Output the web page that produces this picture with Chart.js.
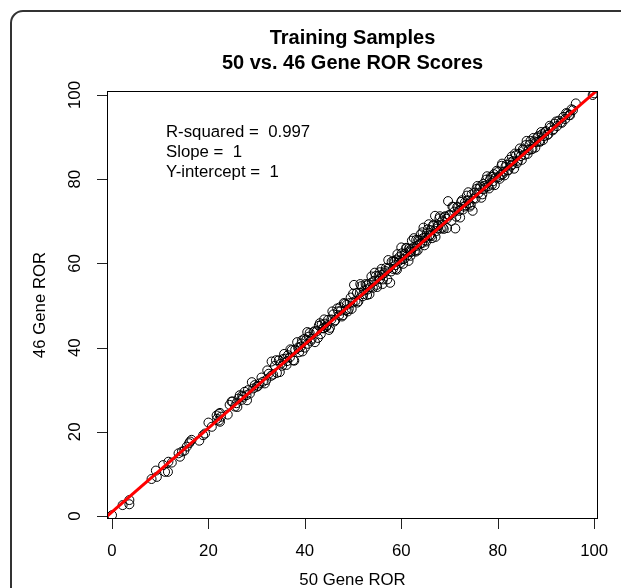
<!DOCTYPE html>
<html>
<head>
<meta charset="utf-8">
<script src="https://cdn.jsdelivr.net/npm/chart.js@4.4.1/dist/chart.umd.min.js"></script>
<style>
  html, body { margin: 0; padding: 0; background: #fff; }
  canvas { display: block; }
</style>
</head>
<body>
<canvas id="ror-chart" width="621" height="588"></canvas>
<script>
// 50 gene ROR score (x) vs 46 gene ROR score (y), one entry per training sample
const ror50 = [
  0.0, 2.2, 3.6, 3.6, 8.2, 9.1, 9.3, 10.6, 11.0, 11.6, 11.7, 12.4, 13.8, 14.1, 14.5, 15.0,
  15.5, 16.0, 16.5, 16.2, 18.1, 18.9, 19.3, 20.0, 20.7, 21.7, 21.8, 22.2, 22.2, 22.4, 22.6, 22.4,
  24.4, 24.8, 25.5, 25.8, 26.2, 26.5, 26.9, 27.2, 27.5, 27.9, 28.2, 28.6, 29.3, 29.6, 30.0, 30.6,
  31.3, 32.0,
  32.5, 33.1, 33.4, 33.8, 34.2, 34.6, 35.0, 35.3, 35.7, 36.2, 36.5, 36.9, 37.3, 37.6, 38.0, 38.4,
  38.8, 39.1, 39.5, 39.9, 40.3, 40.6, 41.0, 41.4, 41.8, 42.1, 42.5, 42.9, 43.3, 43.7, 44.0, 44.4,
  44.8, 45.2, 45.5, 45.9, 46.3, 46.7, 47.1, 47.5, 47.9, 48.3, 48.7, 49.1, 49.5, 49.9,
  36.0, 39.3, 40.8, 43.5, 44.6, 47.3, 48.9,
  50.2, 50.5, 50.8, 51.1, 51.4, 51.7, 52.0, 52.3, 52.6, 52.9, 53.2, 53.5, 53.8, 54.1, 54.4, 54.7,
  55.0, 55.3, 55.6, 55.9, 56.2, 56.5, 56.8, 57.1, 57.4, 57.7, 58.0, 58.3, 58.6, 58.9, 59.2, 59.5,
  59.8, 60.1, 60.4, 60.7, 61.0, 61.3, 61.6, 61.9, 62.2, 62.5, 62.8, 63.1, 63.4, 63.7, 64.0, 64.3,
  64.6, 64.9, 65.2, 65.5, 65.8, 66.1, 66.4, 66.7, 67.0, 67.3, 67.6, 67.9, 68.2, 68.5, 68.8, 69.1,
  69.4, 69.7,
  53.0, 56.0, 58.8, 60.2, 61.8, 63.3, 64.5, 66.0, 67.5, 62.0, 59.0, 65.0,
  70.0, 70.4, 70.8, 71.2, 71.6, 72.0, 72.4, 72.8, 73.2, 73.6, 74.0, 74.4, 74.8, 75.2, 75.6, 76.0,
  76.4, 76.8, 77.2, 77.6, 78.0, 78.4, 78.8, 79.2, 79.6, 80.0, 80.4, 80.8, 81.2, 81.6, 82.0, 82.4,
  82.8, 83.2, 83.6, 84.0, 84.4, 84.8, 85.2, 85.6, 86.0, 86.4, 86.8, 87.2, 87.6, 88.0, 88.4, 88.8,
  89.2, 89.6,
  71.0, 73.0, 75.0, 77.0, 79.0, 81.0, 83.0, 73.8, 76.2, 78.6, 80.6, 82.6,
  90.0, 90.5, 91.0, 91.4, 91.8, 92.3, 92.7, 93.1, 93.6, 94.0, 94.5, 95.0, 95.6, 96.2, 99.7, 100.0,
  24.0, 25.0, 26.0, 27.0, 28.0, 29.0, 30.3, 31.0, 31.7, 32.2, 33.0, 34.0, 34.8, 35.5, 36.3, 37.0,
  37.8, 38.6, 39.4, 40.0, 40.5, 41.2, 42.0, 42.7, 43.1, 43.9, 44.2, 45.0, 45.7, 46.1, 46.9, 47.7,
  48.1, 48.5, 49.3, 49.7, 50.0, 50.9, 51.5, 52.1, 52.8, 53.4, 53.9, 54.5, 54.9, 55.5, 56.1, 56.7,
  57.3, 57.9, 58.4, 59.1, 59.6, 60.0, 60.6, 61.1, 61.5, 62.1, 62.6, 63.0, 63.5, 63.9, 64.4, 64.8,
  65.3, 65.7, 66.2, 66.6, 67.1, 67.7, 68.0, 68.6, 69.0, 69.5, 69.9, 70.6, 71.4, 71.8, 72.2, 72.6,
  73.4, 73.9, 74.2, 74.6, 75.4, 75.8, 76.6, 77.0, 77.4, 77.8, 78.2, 78.9, 79.4, 79.8, 80.2, 80.9,
  81.4, 81.8, 82.2, 82.9, 83.4, 83.8, 84.2, 84.6, 85.0, 85.4, 85.8, 86.2, 86.6, 87.0, 87.4, 87.8,
  88.2, 88.6, 89.0, 89.4, 89.8, 90.3, 90.8, 91.6, 92.1, 93.3, 94.2, 94.8, 95.3
];
const ror46 = [
  0.2, 2.6, 3.8, 2.8, 8.8, 10.8, 9.3, 12.1, 10.5, 10.5, 12.9, 12.7, 14.9, 14.1, 15.3, 15.5,
  16.5, 17.3, 18.1, 17.7, 17.9, 19.2, 19.6, 22.2, 21.2, 23.9, 23.1, 24.3, 22.7, 22.4, 23.6, 24.5,
  26.4, 27.2, 26.0, 26.8, 27.9, 28.7, 27.6, 28.3, 29.5, 28.7, 29.9, 29.1, 30.3, 31.1, 30.7, 31.5,
  31.9, 32.3,
  33.8, 36.7, 33.6, 35.7, 34.0, 37.0, 36.2, 35.7, 38.5, 35.9, 38.2, 37.7, 39.4, 37.0, 39.5, 41.3,
  38.9, 40.2, 39.1, 42.1, 41.9, 40.9, 43.5, 42.1, 43.7, 41.3, 43.9, 45.2, 43.2, 44.6, 46.7, 44.9,
  46.6, 44.7, 46.7, 47.9, 46.5, 49.3, 47.7, 48.8, 47.7, 50.4, 50.2, 49.2, 51.9, 50.7,
  37.4, 41.0, 42.6, 45.5, 45.3, 49.6, 48.6,
  54.9, 51.1, 53.0, 51.0, 53.0, 54.6, 52.2, 53.6, 55.1, 52.5, 55.1, 54.3, 56.9, 54.2, 55.8, 57.0,
  54.4, 57.0, 56.3, 58.7, 56.2, 57.7, 58.9, 56.2, 58.9, 55.4, 60.4, 58.7, 60.4, 58.7, 62.2, 60.6,
  60.1, 62.4, 59.9, 62.3, 63.7, 61.9, 63.5, 61.8, 65.4, 63.8, 63.0, 65.6, 63.1, 65.4, 66.9, 64.8,
  68.5, 66.1, 65.2, 68.1, 66.6, 67.9, 66.0, 68.9, 71.3, 67.7, 69.0, 70.7, 68.3, 70.0, 68.2, 71.2,
  70.6, 74.8,
  53.8, 57.3, 59.6, 61.0, 62.9, 64.2, 66.0, 66.8, 68.3, 62.7, 60.9, 65.5,
  71.4, 70.1, 73.4, 68.3, 73.4, 72.5, 74.6, 72.8, 74.5, 76.1, 74.2, 73.9, 72.5, 76.8, 77.7, 76.7,
  78.3, 76.4, 78.4, 79.9, 78.3, 79.9, 78.7, 81.2, 80.4, 81.7, 80.1, 83.2, 81.8, 82.9, 82.1, 84.6,
  83.2, 84.3, 86.1, 83.8, 86.0, 85.5, 87.1, 85.8, 89.1, 86.9, 89.1, 87.2, 89.0, 88.8, 90.2, 88.9,
  90.7, 90.2,
  72.3, 73.5, 75.4, 77.6, 79.5, 81.2, 83.5, 75.0, 77.8, 80.6, 81.0, 84.0,
  91.4, 90.7, 92.3, 91.6, 93.2, 92.6, 93.9, 93.5, 94.8, 94.3, 95.6, 95.2, 96.4, 98.0, 100.0, 100.4,
  24.1, 27.2, 25.9, 28.6, 27.5, 31.8, 30.9, 32.9, 31.5, 34.6, 33.3, 37.0, 34.2, 37.3, 36.8, 39.6,
  36.9, 40.0, 41.7, 40.0, 43.7, 41.6, 43.9, 42.3, 45.8, 44.6, 45.7, 44.2, 48.6, 46.2, 48.6, 47.4,
  50.6, 48.9, 50.6, 49.2, 52.8, 50.7, 55.1, 52.7, 54.8, 52.7, 55.5, 57.8, 54.9, 57.9, 55.1, 58.2,
  60.8, 58.1, 60.6, 58.5, 61.5, 63.8, 61.1, 63.6, 60.6, 63.5, 66.0, 62.8, 65.6, 64.7, 67.4, 64.3,
  67.1, 69.3, 66.5, 69.1, 66.3, 69.0, 71.2, 68.5, 71.0, 68.4, 71.5, 73.5, 71.1, 73.3, 70.9, 75.0,
  73.8, 76.9, 73.5, 76.4, 75.4, 78.4, 75.6, 78.9, 78.0, 80.7, 77.8, 80.6, 78.6, 82.0, 80.5, 83.7,
  80.9, 83.4, 82.1, 85.4, 82.5, 85.7, 84.4, 87.3, 84.6, 86.9, 88.1, 86.0, 88.2, 87.1, 89.8, 87.5,
  89.9, 89.0, 91.2, 89.3, 91.2, 90.5, 92.7, 91.9, 93.7, 93.4, 95.7, 95.2, 96.6
];

const xTicks = [0, 20, 40, 60, 80, 100];
const yTicks = [0, 20, 40, 60, 80, 100];
const titleLines = ['Training Samples', '50 vs. 46 Gene ROR Scores'];
const fitLabels = ['R-squared =  0.997', 'Slope =  1', 'Y-intercept =  1'];
const fitSlope = 0.995;
const fitIntercept = 1.0;
const xLabel = '50 Gene ROR';
const yLabel = '46 Gene ROR';

const FONT = '"Liberation Sans", Arial, Helvetica, sans-serif';

// R style frame: box, outside ticks, rotated y labels, titles, fit text
const rFrame = {
    id: 'rFrame',
    beforeDraw(chart) {
        const ctx = chart.ctx;
        ctx.save();
        ctx.fillStyle = '#fff';
        ctx.fillRect(0, 0, chart.width, chart.height);
        ctx.restore();
    },
    afterDraw(chart) {
        const ctx = chart.ctx;
        const { left, right, top, bottom } = chart.chartArea;
        const xs = chart.scales.x;
        const ys = chart.scales.y;
        const midX = (left + right) / 2;

        ctx.save();
        ctx.strokeStyle = '#000';
        ctx.lineWidth = 1;
        ctx.strokeRect(left + 0.5, top + 0.5, right - left - 1, bottom - top - 1);

        // ticks
        ctx.strokeStyle = '#222';
        ctx.beginPath();
        xTicks.forEach(t => {
            const px = Math.round(xs.getPixelForValue(t)) + 0.5;
            ctx.moveTo(px, bottom);
            ctx.lineTo(px, bottom + 10);
        });
        yTicks.forEach(t => {
            const py = Math.round(ys.getPixelForValue(t)) + 0.5;
            ctx.moveTo(left - 10, py);
            ctx.lineTo(left, py);
        });
        ctx.stroke();

        ctx.fillStyle = '#000';
        ctx.font = '16.8px ' + FONT;
        ctx.textAlign = 'center';
        ctx.textBaseline = 'middle';
        xTicks.forEach(t => ctx.fillText(String(t), xs.getPixelForValue(t), bottom + 32));
        yTicks.forEach(t => {
            ctx.save();
            ctx.translate(left - 32, ys.getPixelForValue(t));
            ctx.rotate(-Math.PI / 2);
            ctx.fillText(String(t), 0, 0);
            ctx.restore();
        });

        // axis titles
        ctx.fillText(xLabel, midX, bottom + 61);
        ctx.save();
        ctx.translate(left - 67, (top + bottom) / 2);
        ctx.rotate(-Math.PI / 2);
        ctx.fillText(yLabel, 0, 0);
        ctx.restore();

        // fit statistics
        ctx.textAlign = 'left';
        fitLabels.forEach((s, i) => ctx.fillText(s, left + 59, top + 41 + i * 20));

        // main title
        ctx.font = 'bold 20px ' + FONT;
        ctx.textAlign = 'center';
        titleLines.forEach((s, i) => ctx.fillText(s, midX, top - 53 + i * 25));

        // outer rounded panel border
        ctx.strokeStyle = '#333';
        ctx.lineWidth = 2;
        ctx.beginPath();
        ctx.roundRect(11, 11, 660, 640, 12);
        ctx.stroke();
        ctx.restore();
    }
};

const points = ror50.map((x, i) => ({ x: x, y: ror46[i] }));
const fitLine = [-2, 102].map(x => ({ x: x, y: fitIntercept + fitSlope * x }));

new Chart(document.getElementById('ror-chart'), {
    type: 'scatter',
    data: {
        datasets: [
            {
                type: 'line',
                data: fitLine,
                borderColor: '#ff0000',
                borderWidth: 3,
                pointRadius: 0,
                fill: false,
                clip: 0,
                order: 0
            },
            {
                data: points,
                pointStyle: 'circle',
                pointRadius: 4.5,
                borderColor: '#000',
                borderWidth: 1,
                backgroundColor: 'rgba(0,0,0,0)',
                order: 1
            }
        ]
    },
    options: {
        responsive: false,
        animation: false,
        layout: { padding: { left: 107, right: 23, top: 91, bottom: 69 } },
        plugins: { legend: { display: false }, tooltip: { enabled: false } },
        scales: {
            x: { type: 'linear', min: -1.04, max: 100.8, display: false },
            y: { type: 'linear', min: -0.7, max: 100.95, display: false }
        }
    },
    plugins: [rFrame]
});
</script>
</body>
</html>
